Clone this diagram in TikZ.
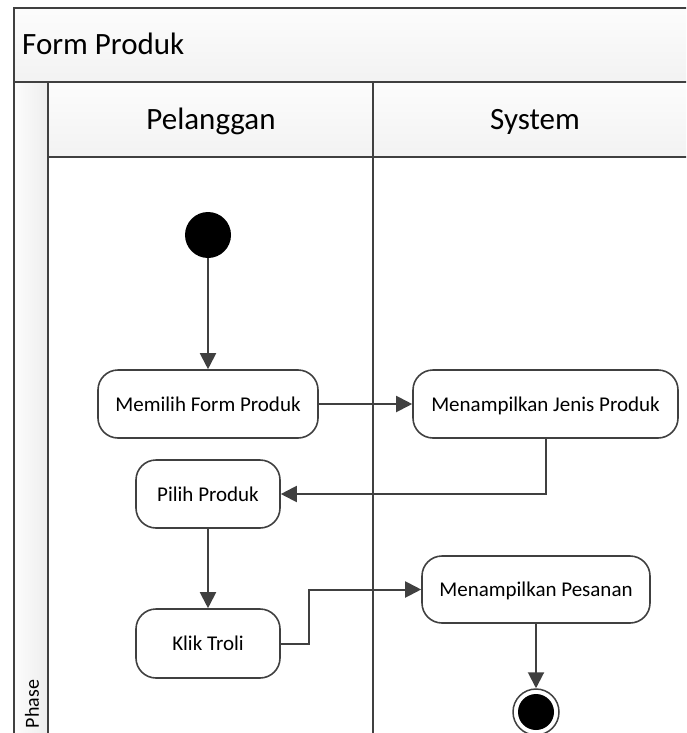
\documentclass[tikz,border=0pt]{standalone}
\usepackage{fontspec}
\setmainfont{Carlito}
\usetikzlibrary{arrows.meta}
\definecolor{ln}{HTML}{404040}
\begin{document}
\begin{tikzpicture}[x=1pt,y=-1pt,
  frame/.style={draw=ln,line width=1.5pt},
  actbox/.style={draw=ln,line width=1.6pt,rounded corners=20pt,fill=white,
    font=\fontsize{21}{25}\selectfont,text height=14pt,text depth=0pt,inner sep=0pt},
  conn/.style={draw=ln,line width=2pt,-{Triangle[length=16pt,width=16pt]}},
  hdr/.style={font=\fontsize{31}{37}\selectfont,inner sep=0pt}]
\useasboundingbox (0,0) rectangle (686,733);
\clip (0,0) rectangle (686,733);
% backgrounds
\shade[top color=gray!2,bottom color=gray!10] (14,8) rectangle (710,82);
\shade[left color=gray!2,right color=gray!14] (14,82) rectangle (48,745);
\shade[top color=gray!2,bottom color=gray!10] (48,82) rectangle (710,157);
% frame lines
\draw[frame] (14,745) -- (14,8) -- (710,8);
\draw[frame] (14,82) -- (710,82);
\draw[frame] (48,82) -- (48,745);
\draw[frame] (48,157) -- (710,157);
\draw[frame] (373,82) -- (373,745);
% headers
\node[hdr,anchor=base west] (title) at (22,55) {Form Produk};
\node[hdr,anchor=base] (lane1) at (211,130) {Pelanggan};
\node[hdr,anchor=base] (lane2) at (535,130) {System};
\node[rotate=90,font=\fontsize{20}{24}\selectfont,inner sep=0pt] (phase) at (32,704) {Phase};
% nodes
\node[circle,fill=black,minimum size=46pt,inner sep=0pt] (start) at (208,235) {};
\node[actbox,minimum width=220pt,minimum height=68pt] (memilih) at (208,404) {Memilih Form Produk};
\node[actbox,minimum width=265pt,minimum height=68pt] (jenis) at (545.5,404) {Menampilkan Jenis Produk};
\node[actbox,minimum width=144pt,minimum height=68pt] (pilih) at (208,494) {Pilih Produk};
\node[actbox,minimum width=144pt,minimum height=69pt] (klik) at (208,643.5) {Klik Troli};
\node[actbox,minimum width=228pt,minimum height=67pt] (pesanan) at (536,589.5) {Menampilkan Pesanan};
\node[circle,draw=ln,line width=1.5pt,fill=white,minimum size=46pt,inner sep=0pt] (end) at (536,712) {};
\node[circle,fill=black,minimum size=36pt,inner sep=0pt] (endin) at (end.center) {};
% connectors
\draw[conn] (start) -- (memilih);
\draw[conn] (memilih) -- (jenis);
\draw[conn] (jenis.south) |- (pilih.east);
\draw[conn] (pilih) -- (klik);
\draw[conn] (klik.east) -- ++(28,0) |- (pesanan.west);
\draw[conn] (pesanan) -- (end);
\end{tikzpicture}
\end{document}
